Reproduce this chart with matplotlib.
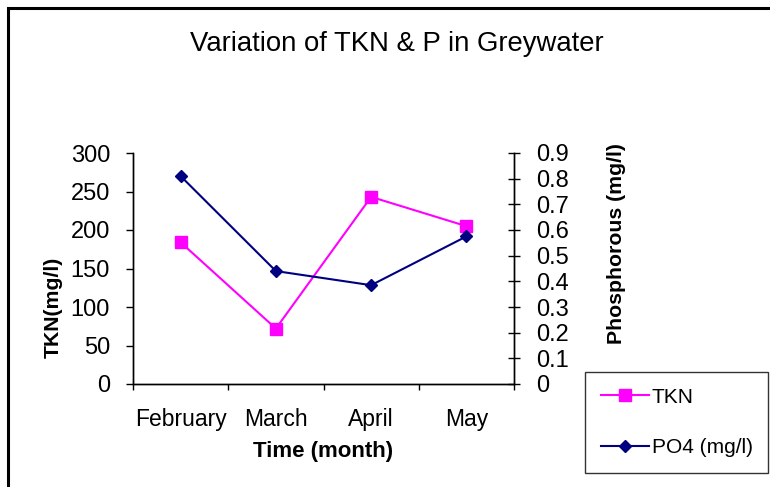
import matplotlib
matplotlib.use("Agg")
import matplotlib.pyplot as plt
from matplotlib.patches import Rectangle
from matplotlib.ticker import MultipleLocator, FixedLocator

plt.rcParams["font.family"] = ["Liberation Sans", "DejaVu Sans"]

months = ["February", "March", "April", "May"]
tkn = [184, 72, 243, 205]
po4 = [0.81, 0.44, 0.385, 0.575]

fig = plt.figure(figsize=(7.7, 4.87), dpi=100)
fig.patches.append(Rectangle((8 / 770, -0.1), 1.2, 1 - 8 / 487 + 0.1,
                             transform=fig.transFigure, fill=False,
                             edgecolor="black", lw=2.2))

ax = fig.add_axes([133 / 770, 1 - 384 / 487, 381 / 770, 231 / 487])
ax2 = ax.twinx()

x = range(len(months))
ax.plot(x, tkn, color="#FF00FF", lw=1.5, marker="s", ms=9, label="TKN")
ax2.plot(x, po4, color="#000080", lw=1.5, marker="D", ms=6.5, label="PO4 (mg/l)")

ax.set_xlim(-0.5, 3.5)
ax.set_ylim(0, 300)
ax2.set_ylim(0, 0.9)
ax.yaxis.set_major_locator(MultipleLocator(50))
ax2.yaxis.set_major_locator(MultipleLocator(0.1))
ax2.yaxis.set_major_formatter(plt.FuncFormatter(lambda v, p: "0" if abs(v) < 1e-9 else f"{v:.1f}"))

ax.set_xticks(list(x))
ax.set_xticklabels(months, fontsize=16.5)
ax.xaxis.set_minor_locator(FixedLocator([-0.5, 0.5, 1.5, 2.5, 3.5]))
ax.tick_params(axis="x", which="major", length=0, pad=17.5)
ax.tick_params(axis="x", which="minor", length=4, width=1)
ax.tick_params(axis="y", labelsize=17, length=5, width=1, direction="out", pad=11.5)
ax2.tick_params(axis="y", labelsize=17, length=9, width=1, direction="inout", pad=11.5)

for a in (ax, ax2):
    a.spines["top"].set_visible(False)
    for s in a.spines.values():
        s.set_linewidth(1)

ax.set_xlabel("Time (month)", fontsize=16, fontweight="bold", labelpad=7)
ax.set_ylabel("TKN(mg/l)", fontsize=15.3, fontweight="bold")
ax.yaxis.set_label_coords(-0.185, 0.333)
ax2.set_ylabel("Phosphorous (mg/l)", fontsize=15.3, fontweight="bold")
ax2.yaxis.set_label_coords(1.244, 0.61)

fig.text(397 / 770, 1 - 44 / 487, "Variation of TKN & P in Greywater",
         ha="center", va="center", fontsize=19.8)

h1, l1 = ax.get_legend_handles_labels()
h2, l2 = ax2.get_legend_handles_labels()
leg = fig.legend(h1 + h2, l1 + l2, loc="upper left",
                 bbox_to_anchor=(585 / 770, 1 - 372 / 487),
                 fontsize=15, frameon=True, fancybox=False,
                 labelspacing=1.5, handlelength=2.3, borderpad=0.75,
                 handletextpad=0.15, borderaxespad=0)
leg.get_frame().set_edgecolor("black")
leg.get_frame().set_linewidth(1)

fig.savefig("out.png", dpi=100)
